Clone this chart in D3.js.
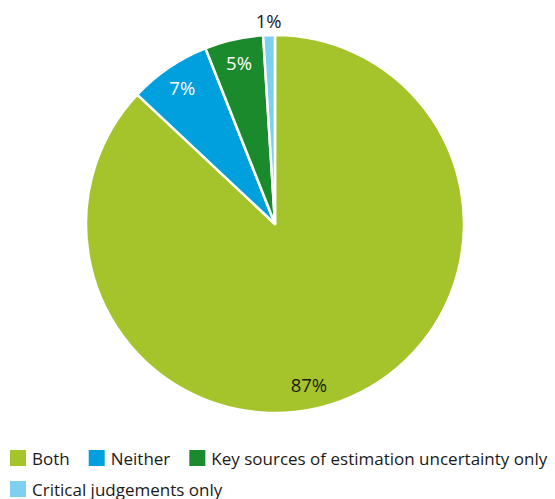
<!DOCTYPE html>
<html><head><meta charset="utf-8">
<script src="https://cdn.jsdelivr.net/npm/d3@7"></script>
<style>body{margin:0;background:#fff;font-family:"Open Sans","Noto Sans",sans-serif;}</style>
</head><body><svg id="c" width="555" height="499"></svg>
<script>
const categories = ["Both","Neither","Key sources of estimation uncertainty only","Critical judgements only"];
const values = [87,7,5,1];
const labels = ["87%","7%","5%","1%"];
const colors = ["#a5c42b","#00a0df","#1b8a2d","#7fcff0"];

const svg = d3.select("#c");
const cx = 275, cy = 224, R = 189;
const g = svg.append("g").attr("transform",`translate(${cx},${cy})`);
const pie = d3.pie().sort(null).value(d=>d.v);
const data = categories.map((c,i)=>({c, v: values[i], l: labels[i], col: colors[i]}));
const arcs = pie(data);
const arc = d3.arc().innerRadius(0).outerRadius(R);
g.selectAll("path").data(arcs).join("path")
  .attr("d", arc).attr("fill", d=>d.data.col)
  .attr("stroke","#fff").attr("stroke-width",2.5).attr("stroke-linejoin","round");

const labelFill = ["#1a1a1a","#fff","#fff","#1a1a1a"];
g.selectAll("text").data(arcs).join("text")
  .attr("transform", (d,i)=>{
    let a = (d.startAngle+d.endAngle)/2, r = 165;
    if (i===0){ a = a + 0.2; r = 164; }
    if (i===3){ r = 204; }
    return `translate(${r*Math.sin(a)},${-r*Math.cos(a)})`;
  })
  .attr("text-anchor","middle").attr("dominant-baseline","central")
  .attr("font-size",18.5).attr("fill",(d,i)=>labelFill[i])
  .text(d=>d.data.l);

// legend
const rows = [[0,1,2],[3]];
const leg = svg.append("g");
const rowY = [458, 489];
rows.forEach((row, ri)=>{
  let x = 10;
  row.forEach(i=>{
    leg.append("rect").attr("x",x).attr("y",rowY[ri]-8).attr("width",16).attr("height",16).attr("fill",colors[i]);
    const t = leg.append("text").attr("x",x+22).attr("y",rowY[ri]).attr("dominant-baseline","central")
      .attr("font-size",17).attr("fill","#1a1a1a").text(categories[i]);
    x += 22 + t.node().getComputedTextLength() + 19;
  });
});
</script></body></html>
